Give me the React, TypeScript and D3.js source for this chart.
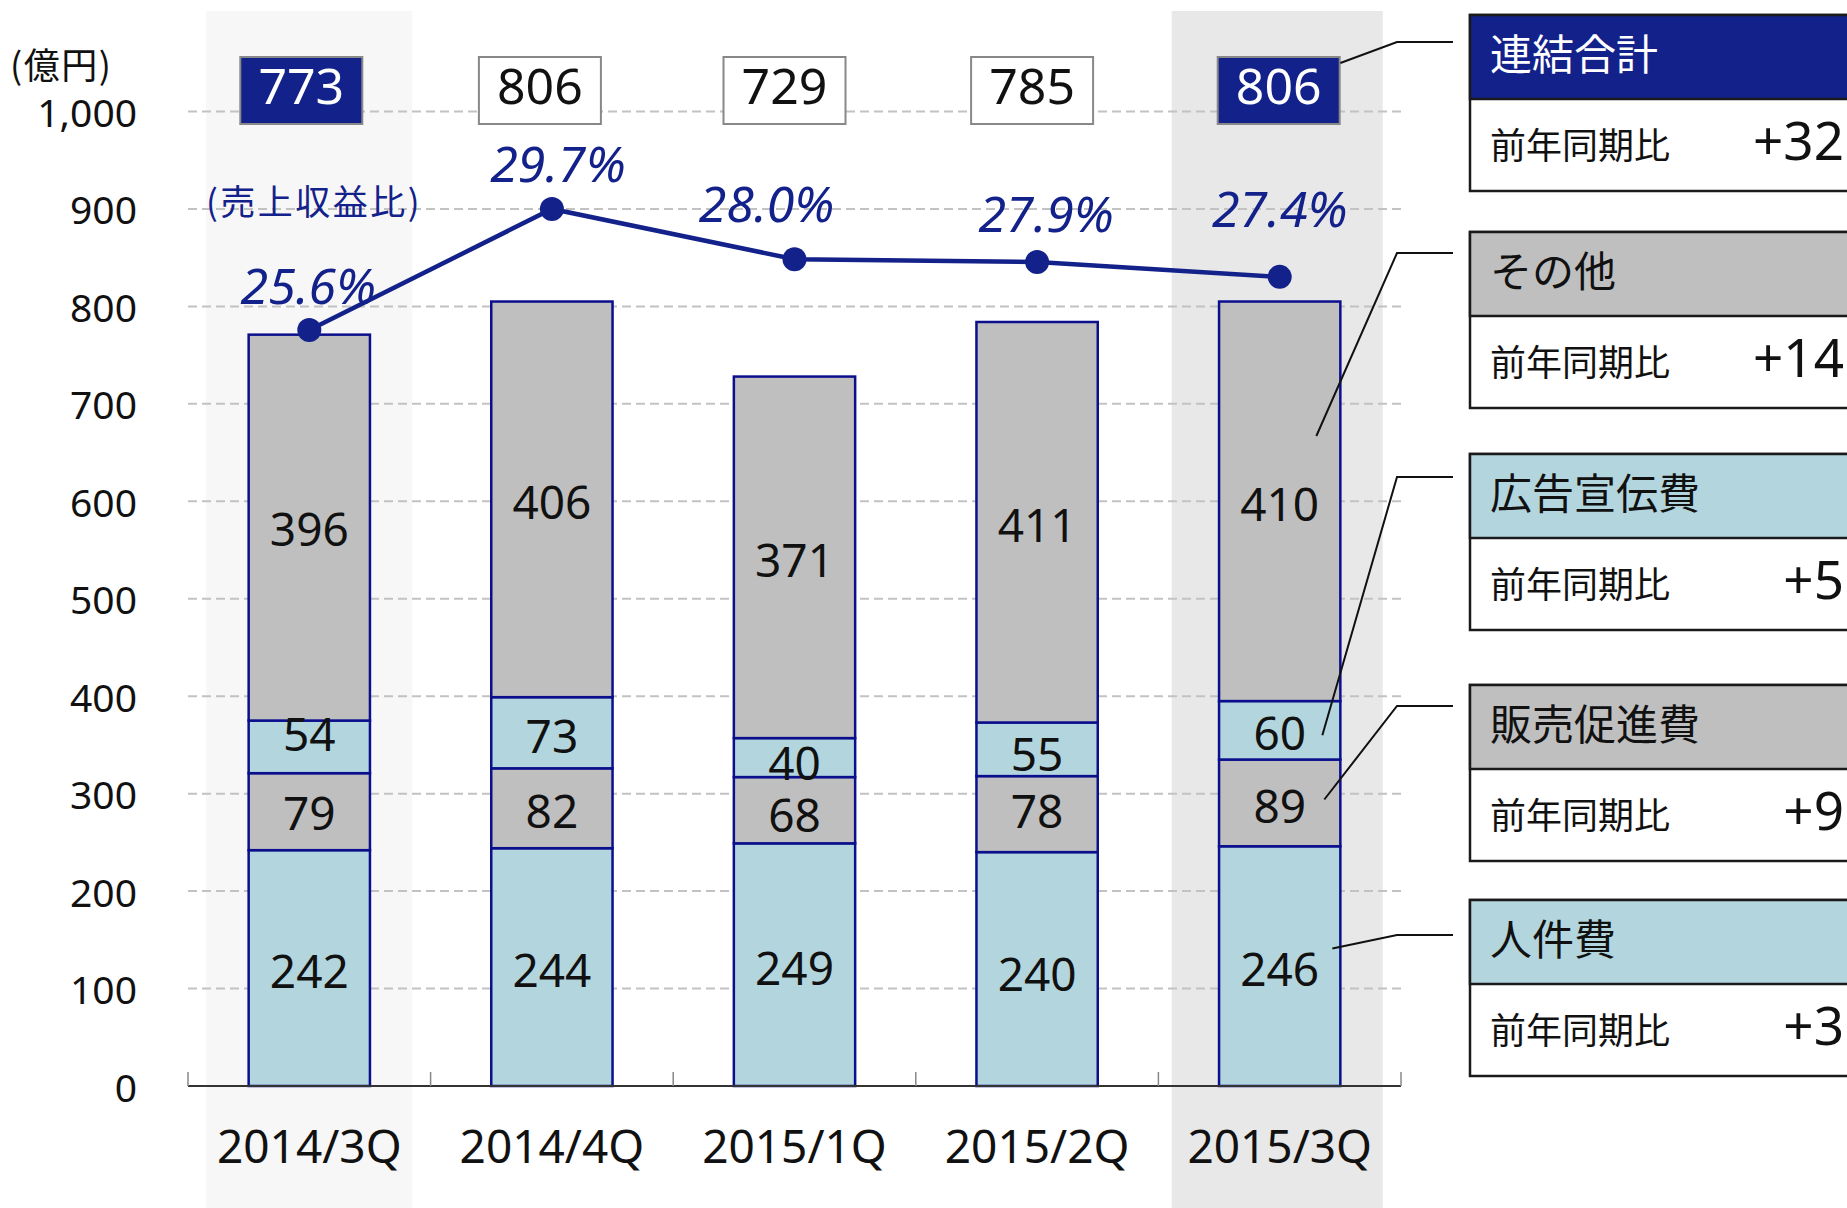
import React from 'react';
import * as d3 from 'd3';

const categories = ['2014/3Q', '2014/4Q', '2015/1Q', '2015/2Q', '2015/3Q'];
const personnel = [242, 244, 249, 240, 246];
const promotion = [79, 82, 68, 78, 89];
const advertising = [54, 73, 40, 55, 60];
const other = [396, 406, 371, 411, 410];
const totals = [773, 806, 729, 785, 806];
const ratio = [25.6, 29.7, 28.0, 27.9, 27.4];
const yTicks = [0, 100, 200, 300, 400, 500, 600, 700, 800, 900, 1000];
const tickLabels = ['0', '100', '200', '300', '400', '500', '600', '700', '800', '900', '1,000'];
const legendNames = ['連結合計', 'その他', '広告宣伝費', '販売促進費', '人件費'];
const legendYoY = ['+32', '+14', '+5', '+9', '+3'];

const NAVY = '#13218a';
const BAR_STROKE = '#0b0f8c';
const GRAY = '#bfbfbf';
const BLUE = '#b3d6de';
const LATIN = "'Noto Sans', 'Noto Sans CJK JP', sans-serif";
const CJK = "'Noto Sans CJK JP', 'Noto Sans', sans-serif";

const keys = ['personnel', 'promotion', 'advertising', 'other'];
const segColors = [BLUE, GRAY, BLUE, GRAY];

// layout constants
const boxDx = [-8, -12, -10, -5, -1];
const pctDx = [-1, 6, -28, 9, 0];
const pctDy = [-26, -27, -37, -30, -50];
const segLabelDy = [
  [2, 2, 2, 4, 2],
  [0, 2, 4, -4, 2],
  [-14, 2, 4, 4, 2],
  [0, 2, 2, 2, 2],
];
const legendTops = [15, 232, 454, 685, 900];
const legendFills = [NAVY, GRAY, BLUE, GRAY, BLUE];
const legendTextColor = ['#ffffff', '#111', '#111', '#111', '#111'];
const leaderElbowY = [42, 253, 477, 706, 935];
const leaderAnchorVal = [null, 667, 360, 294, 141];
const leaderDx = [0, -24, -18, -16, -8];

export default function App() {
  const W = 1847, H = 1208;
  const x = d3.scaleBand<string>().domain(categories).range([188, 1401]).paddingInner(0).paddingOuter(0);
  const y = d3.scaleLinear().domain([0, 1000]).range([1086, 111.5]);
  const yPct = d3.scaleLinear().domain([0, 33]).range([1086, 111.5]);
  const bw = x.bandwidth();
  const barW = bw * 0.5;
  const cx = (c: string) => (x(c) as number) + bw / 2;

  const rows = categories.map((c, i) => ({
    cat: c,
    personnel: personnel[i],
    promotion: promotion[i],
    advertising: advertising[i],
    other: other[i],
  }));
  const stacked = d3.stack<any>().keys(keys)(rows);

  const linePath = d3
    .line<number>()
    .x((_, i) => cx(categories[i]))
    .y((d) => yPct(d))(ratio) as string;

  const last = categories[categories.length - 1];
  const lastRight = cx(last) + barW / 2;

  return (
    <svg width={W} height={H} style={{ position: 'absolute', left: 0, top: 0, display: 'block', background: '#fff' }}>
      {/* highlight columns */}
      <rect x={cx(categories[0]) - 103} y={11} width={206} height={H - 11} fill="#f7f7f7" />
      <rect x={cx(last) - 108} y={11} width={211} height={H - 11} fill="#e8e8e8" />

      {/* gridlines */}
      {yTicks.filter((t) => t > 0).map((t) => (
        <line key={t} x1={188} x2={1401} y1={y(t)} y2={y(t)} stroke="#c2c2c2" strokeWidth={2} strokeDasharray="9 5" />
      ))}

      {/* y tick labels */}
      {yTicks.map((t, i) => (
        <text key={t} x={137} y={y(t)} textAnchor="end" dominantBaseline="central" fontFamily={LATIN} fontSize={39} fill="#111">
          {tickLabels[i]}
        </text>
      ))}
      <text x={10} y={63} dominantBaseline="central" fontFamily={CJK} fontSize={36} fill="#111" letterSpacing={1.5}>
        (億円)
      </text>

      {/* bars */}
      {stacked.map((s, k) =>
        s.map((d, i) => (
          <rect
            key={`${k}-${i}`}
            x={cx(categories[i]) - barW / 2}
            y={y(d[1])}
            width={barW}
            height={y(d[0]) - y(d[1])}
            fill={segColors[k]}
            stroke={BAR_STROKE}
            strokeWidth={2.5}
          />
        ))
      )}
      {stacked.map((s, k) =>
        s.map((d, i) => (
          <text
            key={`t${k}-${i}`}
            x={cx(categories[i])}
            y={y((d[0] + d[1]) / 2) + segLabelDy[k][i]}
            textAnchor="middle"
            dominantBaseline="central"
            fontFamily={LATIN}
            fontSize={46}
            fill="#111"
          >
            {d[1] - d[0]}
          </text>
        ))
      )}

      {/* x axis */}
      <line x1={188} x2={1401} y1={y(0)} y2={y(0)} stroke="#333" strokeWidth={2} />
      {d3.range(categories.length + 1).map((i) => (
        <line key={i} x1={188 + i * bw} x2={188 + i * bw} y1={y(0)} y2={y(0) - 14} stroke="#888" strokeWidth={1.5} />
      ))}
      {categories.map((c) => (
        <text key={c} x={cx(c)} y={1163} textAnchor="middle" fontFamily={LATIN} fontSize={46} fill="#111">
          {c}
        </text>
      ))}

      {/* total boxes */}
      {totals.map((t, i) => {
        const hl = i === 0 || i === totals.length - 1;
        const bx = cx(categories[i]) + boxDx[i];
        return (
          <g key={i}>
            <rect x={bx - 61} y={57} width={122} height={67} fill={hl ? NAVY : '#fff'} stroke="#888" strokeWidth={2} />
            <text x={bx} y={104} textAnchor="middle" fontFamily={LATIN} fontSize={50} fill={hl ? '#fff' : '#111'}>
              {t}
            </text>
          </g>
        );
      })}

      {/* ratio line */}
      <path d={linePath} fill="none" stroke={NAVY} strokeWidth={4.5} />
      {ratio.map((r, i) => (
        <circle key={i} cx={cx(categories[i])} cy={yPct(r)} r={12} fill={NAVY} />
      ))}
      {ratio.map((r, i) => (
        <text
          key={`p${i}`}
          x={cx(categories[i]) + pctDx[i]}
          y={yPct(r) + pctDy[i]}
          textAnchor="middle"
          fontFamily={LATIN}
          fontStyle="italic"
          fontSize={50}
          fill={NAVY}
        >
          {r.toFixed(1)}%
        </text>
      ))}
      <text x={206} y={199} dominantBaseline="central" fontFamily={CJK} fontSize={35} fill={NAVY} letterSpacing={2.5}>
        (売上収益比)
      </text>

      {/* legend boxes */}
      {legendNames.map((n, i) => {
        const top = legendTops[i];
        return (
          <g key={n}>
            <rect x={1470} y={top} width={420} height={176} fill="#fff" stroke="#1a1a1a" strokeWidth={2.5} />
            <rect x={1470} y={top} width={420} height={84} fill={legendFills[i]} stroke="#1a1a1a" strokeWidth={2.5} />
            <text x={1490} y={top + 36} dominantBaseline="central" fontFamily={CJK} fontSize={42} fill={legendTextColor[i]}>
              {n}
            </text>
            <text x={1490} y={top + 128} dominantBaseline="central" fontFamily={CJK} fontSize={36} fill="#111">
              前年同期比
            </text>
            <text x={1844} y={top + 145} textAnchor="end" fontFamily={LATIN} fontSize={53} fill="#111">
              {legendYoY[i]}
            </text>
          </g>
        );
      })}

      {/* leader lines */}
      {legendNames.map((n, i) => {
        const v = leaderAnchorVal[i];
        const sx = lastRight + leaderDx[i];
        const sy = v === null ? 63 : y(v);
        const pts: [number, number][] = [
          [sx, sy],
          [1397, leaderElbowY[i]],
          [1453, leaderElbowY[i]],
        ];
        return <path key={`l${n}`} d={d3.line()(pts) as string} fill="none" stroke="#111" strokeWidth={2} />;
      })}
    </svg>
  );
}
